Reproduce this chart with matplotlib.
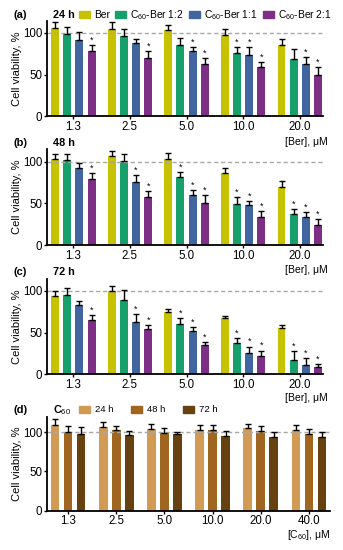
import numpy as np
import matplotlib.pyplot as plt
from matplotlib.patches import Patch

plt.rcParams['font.family'] = ['Liberation Sans', 'DejaVu Sans']
plt.rcParams['mathtext.fontset'] = 'custom'
plt.rcParams['mathtext.rm'] = 'Liberation Sans'
plt.rcParams['mathtext.it'] = 'Liberation Sans:italic'
plt.rcParams['mathtext.bf'] = 'Liberation Sans:bold'

# concentrations
conc_ber = ['1.3', '2.5', '5.0', '10.0', '20.0']
conc_c60 = ['1.3', '2.5', '5.0', '10.0', '20.0', '40.0']

ber_series = ['Ber', 'C$_{60}$-Ber 1:2', 'C$_{60}$-Ber 1:1', 'C$_{60}$-Ber 2:1']
ber_colors = ['#c6c200', '#17a06b', '#41659f', '#7d2e85']

# (a) 24 h
ber_24 = [105.6, 104.4, 103.2, 97.6, 86.0]
c12_24 = [98.4, 96.4, 86.0, 75.6, 68.8]
c11_24 = [92.0, 87.6, 78.4, 74.0, 62.4]
c21_24 = [78.0, 69.6, 62.8, 59.6, 49.6]
ber_24_sd = [8.0, 8.4, 6.8, 7.2, 6.4]
c12_24_sd = [9.2, 8.0, 7.6, 8.0, 11.6]
c11_24_sd = [9.6, 4.8, 5.2, 9.2, 9.2]
c21_24_sd = [7.0, 9.2, 6.8, 5.2, 9.2]
sig_24 = [[0, 0, 0, 0, 0], [0, 0, 0, 1, 0], [0, 0, 1, 1, 1], [1, 1, 1, 1, 1]]

# (b) 48 h
ber_48 = [102.8, 106.8, 102.8, 86.0, 69.2]
c12_48 = [102.0, 101.2, 81.2, 48.8, 36.8]
c11_48 = [92.0, 76.0, 60.0, 48.0, 33.2]
c21_48 = [78.8, 58.0, 50.8, 34.0, 24.4]
ber_48_sd = [6.0, 6.4, 7.2, 6.4, 8.0]
c12_48_sd = [6.8, 7.6, 6.0, 8.4, 6.0]
c11_48_sd = [6.8, 7.6, 6.0, 4.8, 6.8]
c21_48_sd = [7.2, 6.8, 8.8, 6.4, 6.4]
sig_48 = [[0, 0, 0, 0, 0], [0, 0, 1, 1, 1], [0, 1, 1, 1, 1], [1, 1, 1, 1, 1]]

# (c) 72 h
ber_72 = [94.4, 100.0, 75.1, 67.9, 55.0]
c12_72 = [95.2, 89.6, 60.2, 37.8, 16.9]
c11_72 = [83.1, 63.0, 51.8, 25.7, 11.2]
c21_72 = [65.0, 53.8, 34.9, 21.7, 8.4]
ber_72_sd = [6.0, 6.4, 3.6, 2.4, 4.0]
c12_72_sd = [8.0, 11.6, 6.8, 5.6, 10.8]
c11_72_sd = [4.5, 9.3, 4.8, 7.6, 8.1]
c21_72_sd = [5.7, 4.8, 3.7, 6.8, 4.0]
sig_72 = [[0, 0, 0, 0, 0], [0, 0, 1, 1, 1], [0, 1, 1, 1, 1], [1, 1, 1, 1, 1]]

# (d) C60 alone
c60_series = ['24 h', '48 h', '72 h']
c60_colors = ['#d29b55', '#a0651f', '#67410f']
c60_24 = [109.4, 106.4, 104.3, 103.0, 105.5, 102.6]
c60_48 = [100.0, 102.6, 99.6, 103.4, 101.3, 98.3]
c60_72 = [98.3, 96.6, 97.4, 95.3, 94.5, 93.6]
c60_24_sd = [8.0, 6.4, 6.3, 6.8, 5.5, 6.4]
c60_48_sd = [8.0, 5.4, 6.4, 6.4, 6.7, 6.4]
c60_72_sd = [8.0, 5.4, 3.5, 6.7, 5.5, 7.3]
sig_c60 = [[0] * 6, [0] * 6, [0] * 6]

W, H = 343, 550
fig = plt.figure(figsize=(W / 100, H / 100), dpi=100)


def fx(x):
    return x / W


def fy(y):
    return 1 - y / H


def panel(rect, vals, sds, sigs, colors, ticks, ymax, xlim, width, step):
    ax = fig.add_axes(rect)
    n = len(ticks)
    x = np.arange(n)
    k = len(vals)
    for i in range(k):
        xi = x + (i - (k - 1) / 2) * step
        v = np.array(vals[i])
        e = np.array(sds[i])
        ax.bar(xi, v, width, color=colors[i], zorder=2)
        ax.errorbar(xi, v, yerr=[np.zeros(n), e], fmt='none', ecolor='black',
                    elinewidth=1, capsize=2.2, capthick=1, zorder=3)
        for xx, vv, ee, ss in zip(xi, v, e, sigs[i]):
            if ss:
                ax.text(xx, vv + ee + 0.5, '*', ha='center', va='bottom',
                        fontsize=6.5, zorder=4)
    ax.axhline(100, color='#a8a8a8', lw=1, ls=(0, (3, 2)), zorder=2.5)
    ax.set_ylim(0, ymax)
    ax.set_xlim(*xlim)
    ax.set_yticks([0, 50, 100])
    ax.set_xticks(x)
    ax.set_xticklabels(ticks)
    for s in ['top', 'right']:
        ax.spines[s].set_visible(False)
    for s in ['left', 'bottom']:
        ax.spines[s].set_linewidth(1.3)
    ax.tick_params(direction='out', length=2.5, width=1, labelsize=8.3, pad=0.8)
    ax.set_ylabel('Cell viability, %', fontsize=8, labelpad=0.5)
    return ax


L = fx(47)
Wabc = fx(323) - L
Wd = fx(330) - L
Habc = 95.8 / H
xl_ber = (-0.464, 4.41)

ax_a = panel([L, fy(116.3), Wabc, Habc],
             [ber_24, c12_24, c11_24, c21_24],
             [ber_24_sd, c12_24_sd, c11_24_sd, c21_24_sd],
             sig_24, ber_colors, conc_ber, 115, xl_ber, 0.14, 0.215)
ax_b = panel([L, fy(245.0), Wabc, Habc],
             [ber_48, c12_48, c11_48, c21_48],
             [ber_48_sd, c12_48_sd, c11_48_sd, c21_48_sd],
             sig_48, ber_colors, conc_ber, 115, xl_ber, 0.14, 0.215)
ax_c = panel([L, fy(374.3), Wabc, Habc],
             [ber_72, c12_72, c11_72, c21_72],
             [ber_72_sd, c12_72_sd, c11_72_sd, c21_72_sd],
             sig_72, ber_colors, conc_ber, 115, xl_ber, 0.14, 0.215)
ax_d = panel([L, fy(510.5), Wd, 93.8 / H],
             [c60_24, c60_48, c60_72],
             [c60_24_sd, c60_48_sd, c60_72_sd],
             sig_c60, c60_colors, conc_c60, 120, (-0.44, 5.44), 0.175, 0.27)

# panel letters and time labels
for lab, title, y in [('(a)', '24 h', 15), ('(b)', '48 h', 143),
                      ('(c)', '72 h', 272), ('(d)', 'C$_{60}$', 410)]:
    fig.text(fx(13), fy(y), lab, fontsize=8, fontweight='bold', va='center')
    fig.text(fx(53), fy(y), title, fontsize=7.8, fontweight='bold', va='center')

# x-axis unit labels
for y in [142, 270, 398]:
    fig.text(fx(328), fy(y), '[Ber], μM', fontsize=7.5, ha='right', va='center')
fig.text(fx(330), fy(535), '[C$_{60}$], μM', fontsize=7.5, ha='right', va='center')

# legends
fig.legend([Patch(color=c) for c in ber_colors], ber_series, loc='center left',
           bbox_to_anchor=(fx(79), fy(15)), ncol=4, frameon=False, fontsize=7.4,
           handlelength=1.1, handleheight=0.6, handletextpad=0.4,
           columnspacing=0.45, borderpad=0, borderaxespad=0)
fig.legend([Patch(color=c) for c in c60_colors], c60_series, loc='center left',
           bbox_to_anchor=(fx(79), fy(410)), ncol=3, frameon=False, fontsize=6.8,
           handlelength=1.2, handleheight=0.7, handletextpad=0.45,
           columnspacing=1.9, borderpad=0, borderaxespad=0)

fig.savefig('out.png', dpi=100)
